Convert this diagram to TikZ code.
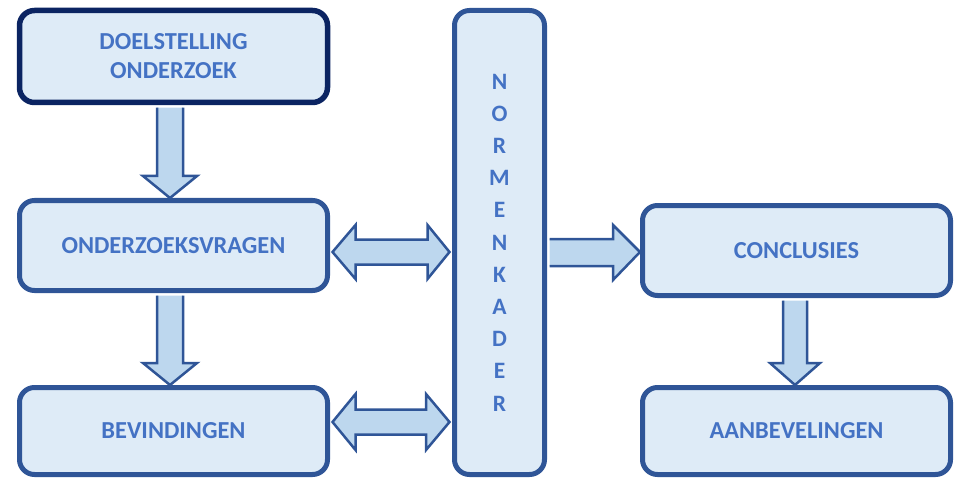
\documentclass[tikz,border=0pt]{standalone}
\usepackage{fontspec}
\setmainfont{Carlito}
\usetikzlibrary{calc}
\definecolor{boxline}{HTML}{2F5597}
\definecolor{darkline}{HTML}{0B2462}
\definecolor{boxfill}{HTML}{DEEBF7}
\definecolor{arrfill}{HTML}{BDD7EE}
\definecolor{txt}{HTML}{4472C4}
\tikzset{
  box/.style={draw=boxline, line width=5pt, fill=boxfill, rounded corners=15pt,
    minimum width=308pt, minimum height=90pt, inner sep=0pt, align=center,
    text=txt, font=\bfseries\fontsize{24.4}{29}\selectfont},
  bigarrow/.style={draw=boxline, line width=2.5pt, fill=arrfill, line join=miter}
}
\begin{document}
\begin{tikzpicture}[x=1pt,y=-1pt]
\useasboundingbox (0,0) rectangle (955,481);
\node[box, draw=darkline, line width=5.5pt, minimum height=92pt] (d) at (173.5,56.5) {DOELSTELLING\\ONDERZOEK};
\node[box] (o) at (173.5,245.5) {ONDERZOEKSVRAGEN};
\node[box, minimum height=87pt] (b) at (173.5,431) {BEVINDINGEN};
\node[box, minimum width=90pt, minimum height=464pt, font=\bfseries\fontsize{23.5}{32.2}\selectfont] (n) at (499.5,242.5)
  {N\\O\\R\\M\\E\\N\\K\\A\\D\\E\\R};
\node[box] (c) at (796.5,250.5) {CONCLUSIES};
\node[box, minimum height=87pt] (a) at (796.5,431) {AANBEVELINGEN};
% down arrow d -> o
\draw[bigarrow] ($(d.south)+(-16.5,2.5)$) -- ($(o.north)+(-16.5,-22)$) -- ($(o.north)+(-30.5,-22)$)
  -- ($(o.north)+(-3.5,0)$) -- ($(o.north)+(23.5,-22)$) -- ($(o.north)+(9.5,-22)$)
  -- ($(d.south)+(9.5,2.5)$);
% down arrow o -> b
\draw[bigarrow] ($(o.south)+(-16.5,2.5)$) -- ($(b.north)+(-16.5,-22)$) -- ($(b.north)+(-30.5,-22)$)
  -- ($(b.north)+(-3.5,0)$) -- ($(b.north)+(23.5,-22)$) -- ($(b.north)+(9.5,-22)$)
  -- ($(o.south)+(9.5,2.5)$);
% down arrow c -> a
\draw[bigarrow] ($(c.south)+(-13.5,2.5)$) -- ($(a.north)+(-13.5,-22)$) -- ($(a.north)+(-26.5,-22)$)
  -- ($(a.north)+(-1.5,0)$) -- ($(a.north)+(23.5,-22)$) -- ($(a.north)+(10.5,-22)$)
  -- ($(c.south)+(10.5,2.5)$);
% double arrow o <-> n
\path (o.east |- 0,252) coordinate (o1) (n.west |- 0,252) coordinate (n1);
\draw[bigarrow] ($(o1)+(2.5,0)$) -- ($(o1)+(25.5,-27)$) -- ($(o1)+(25.5,-12.5)$)
  -- ($(n1)+(-24.5,-12.5)$) -- ($(n1)+(-24.5,-27)$) -- ($(n1)+(-2.5,0)$)
  -- ($(n1)+(-24.5,27)$) -- ($(n1)+(-24.5,12.5)$) -- ($(o1)+(25.5,12.5)$)
  -- ($(o1)+(25.5,27)$) -- cycle;
% double arrow b <-> n
\path (b.east |- 0,422) coordinate (b1) (n.west |- 0,422) coordinate (n2);
\draw[bigarrow] ($(b1)+(2.5,0)$) -- ($(b1)+(25.5,-28)$) -- ($(b1)+(25.5,-12.5)$)
  -- ($(n2)+(-26,-12.5)$) -- ($(n2)+(-26,-28)$) -- ($(n2)+(-2.5,0)$)
  -- ($(n2)+(-26,28)$) -- ($(n2)+(-26,12.5)$) -- ($(b1)+(25.5,12.5)$)
  -- ($(b1)+(25.5,28)$) -- cycle;
% right arrow n -> c
\path (n.east |- 0,252) coordinate (n3) (c.west |- 0,252) coordinate (c1);
\draw[bigarrow] ($(n3)+(2.5,-13)$) -- ($(c1)+(-27,-13)$) -- ($(c1)+(-27,-27)$) -- (c1)
  -- ($(c1)+(-27,28)$) -- ($(c1)+(-27,14)$) -- ($(n3)+(2.5,14)$);
\end{tikzpicture}
\end{document}
